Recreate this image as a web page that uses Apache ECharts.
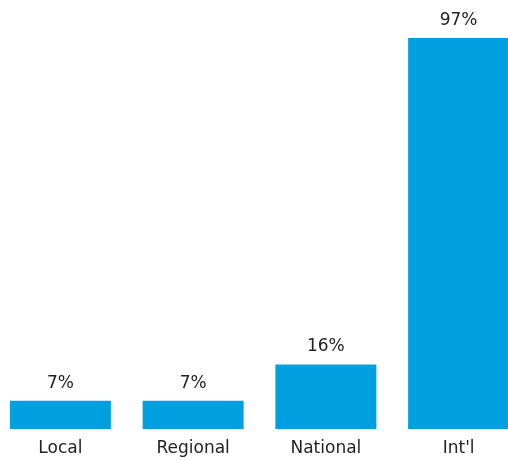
<!DOCTYPE html>
<html>
<head>
<meta charset="utf-8">
<script src="https://cdn.jsdelivr.net/npm/echarts@6/dist/echarts.min.js"></script>
<style>
  html, body { margin: 0; padding: 0; background: #fff; overflow: hidden; }
  /* the reference is cropped: the plot runs a little past both edges */
  #chart { width: 531px; height: 460px; margin-left: -6px; }
</style>
</head>
<body>
<div id="chart"></div>
<script>
// data
const categories = ["Local", "Regional", "National", "Int'l"];
const share_values = [7, 7, 16, 97];

const chart = echarts.init(document.getElementById("chart"));

chart.setOption({
  backgroundColor: "#fff",
  animation: false,
  grid: { top: 26, bottom: 31, left: 0, right: 0 },
  xAxis: {
    type: "category",
    data: categories,
    axisLine: { show: false },
    axisTick: { show: false },
    axisLabel: {
      color: "#222",
      fontFamily: "DejaVu Sans",
      fontSize: 17,
      margin: 11,
    },
  },
  yAxis: {
    type: "value",
    min: 0,
    max: 100,
    show: false,
  },
  series: [
    {
      type: "bar",
      data: share_values,
      barWidth: 101,
      itemStyle: { color: "#00a0df" },
      label: {
        show: true,
        position: "top",
        distance: 9,
        formatter: "{c}%",
        color: "#222",
        fontFamily: "DejaVu Sans",
        fontSize: 17,
      },
    },
  ],
});
</script>
</body>
</html>
